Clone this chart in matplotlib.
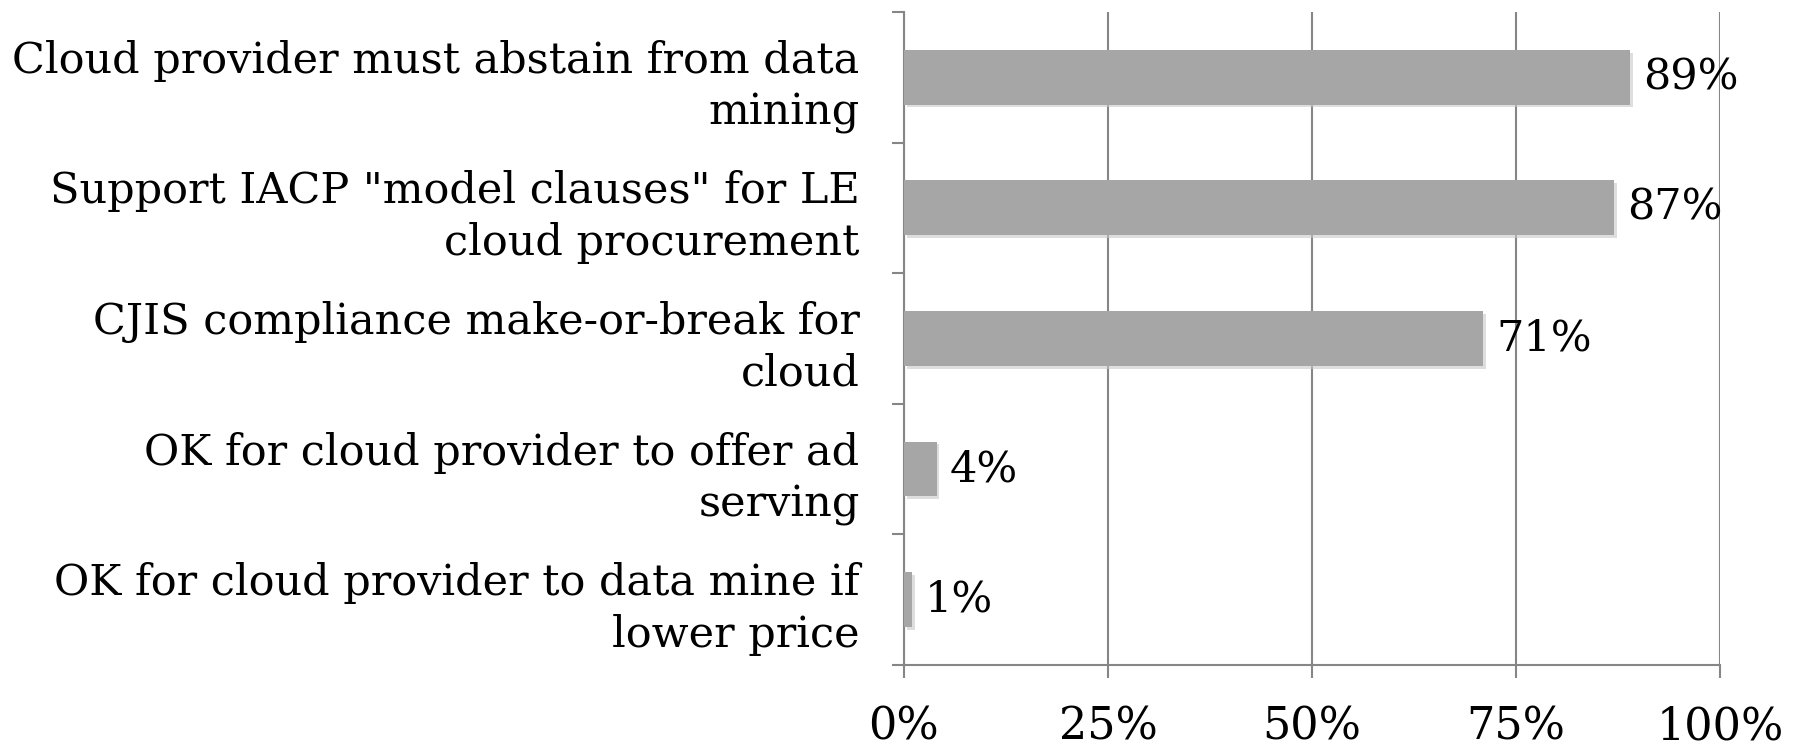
import numpy as np
from matplotlib import pyplot as plt
import matplotlib.patheffects as pe

# Data (top to bottom as in the chart)
categories = [
    "Cloud provider must abstain from data\nmining",
    "Support IACP \"model clauses\" for LE\ncloud procurement",
    "CJIS compliance make-or-break for\ncloud",
    "OK for cloud provider to offer ad\nserving",
    "OK for cloud provider to data mine if\nlower price",
]
values = [89, 87, 71, 4, 1]
xticks = [0, 25, 50, 75, 100]
xtick_labels = ["0%", "25%", "50%", "75%", "100%"]

plt.rcParams['font.family'] = ['DejaVu Serif']
grey = "#868686"

fig = plt.figure(figsize=(17.99, 7.46), dpi=100)
ax = fig.add_axes([0.5025, 0.1086, 0.4535, 0.8754])

y = np.arange(len(categories))[::-1]
bars = ax.barh(y, values, height=0.42, color="#a6a6a6", zorder=3)
for b in bars:
    b.set_path_effects([pe.SimplePatchShadow(offset=(2, -2), shadow_rgbFace="#c8c8c8", alpha=0.6),
                        pe.Normal()])

for yi, v in zip(y, values):
    ax.text(v + 1.6, yi, f"{v}%", va="center", ha="left", fontsize=31, zorder=4)

ax.set_xlim(0, 100)
ax.set_ylim(-0.5, len(categories) - 0.5)

ax.set_xticks(xticks)
ax.set_xticklabels(xtick_labels, fontsize=32)
ax.tick_params(axis="x", length=9, width=1.5, color=grey, pad=20)

ax.set_yticks(y)
ax.set_yticklabels(categories, fontsize=31, ha="right", multialignment="right",
                   linespacing=1.3)
ax.tick_params(axis="y", which="major", length=0, pad=32)
ax.set_yticks(np.arange(-0.5, len(categories)), minor=True)
ax.tick_params(axis="y", which="minor", length=9, width=1.5, color=grey)

ax.grid(axis="x", color=grey, linewidth=1.5, zorder=0)
for s in ["top", "right"]:
    ax.spines[s].set_visible(False)
for s in ["left", "bottom"]:
    ax.spines[s].set_color(grey)
    ax.spines[s].set_linewidth(1.5)

plt.savefig("out.png", dpi=100)
